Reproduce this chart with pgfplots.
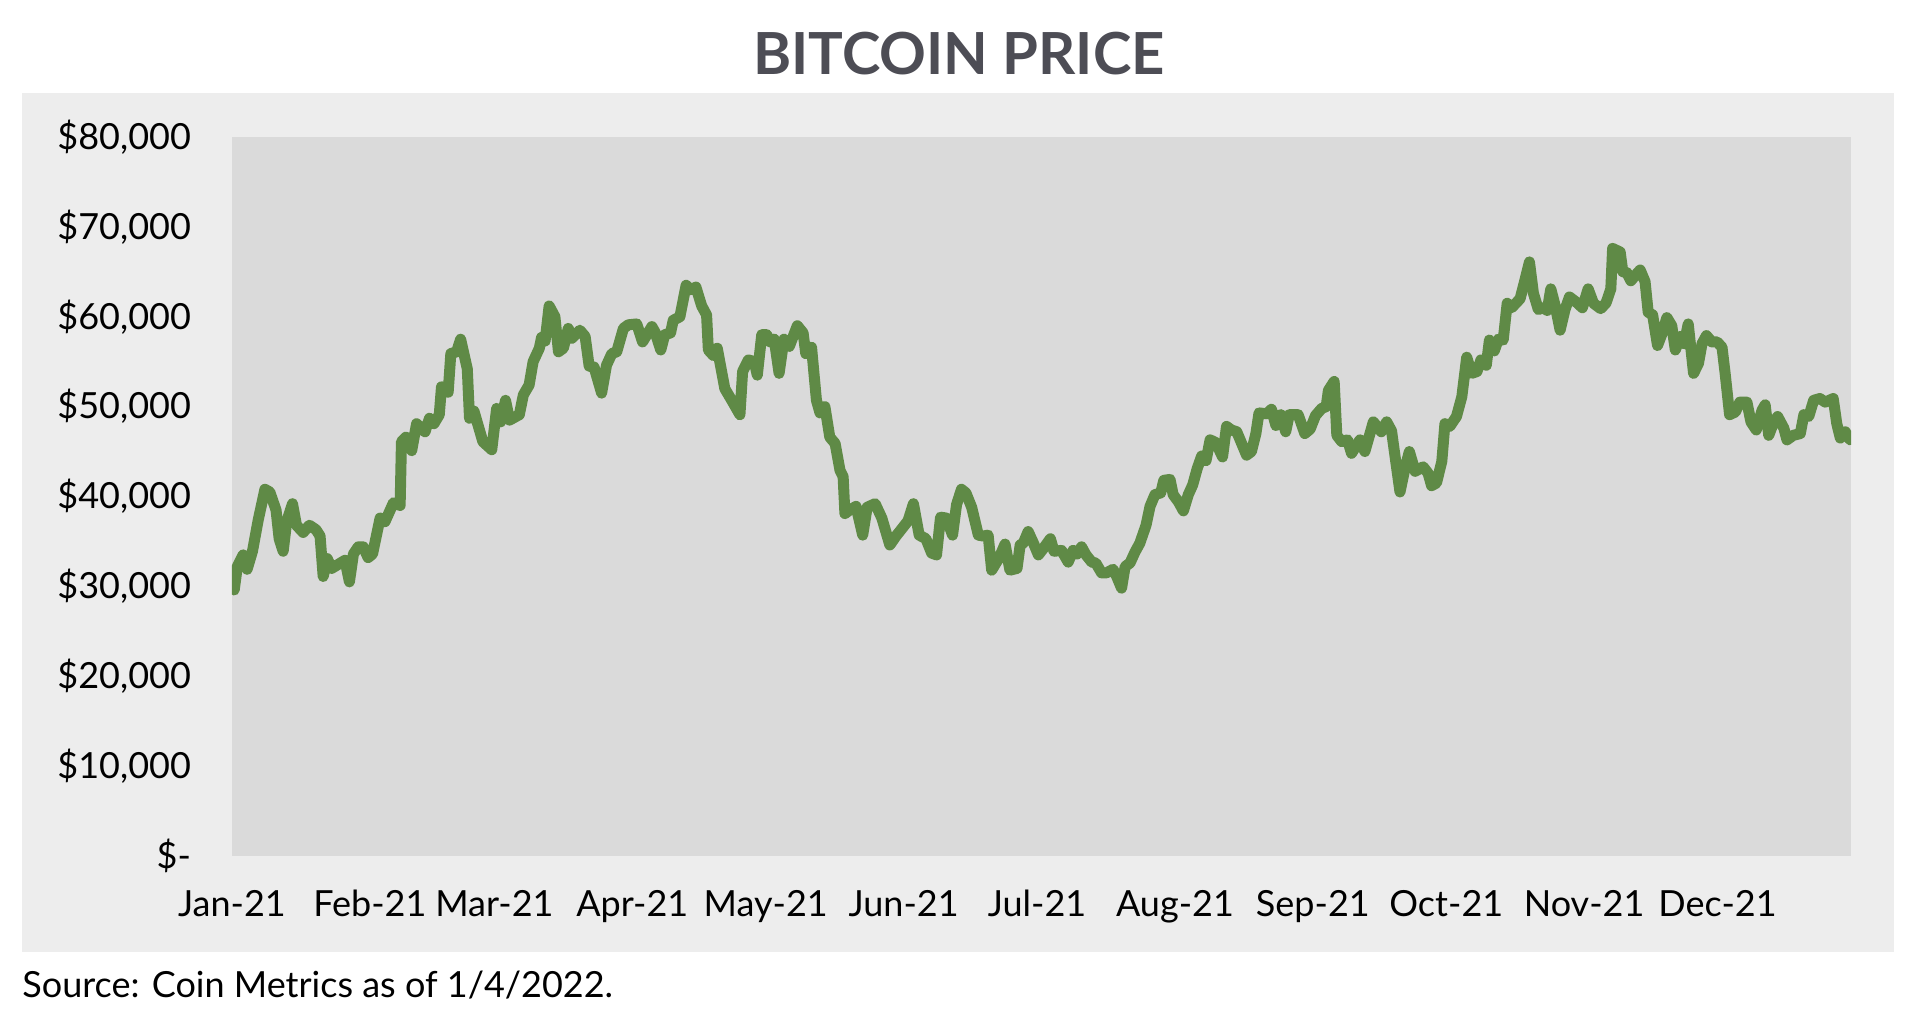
\documentclass[border=0pt]{standalone}
\usepackage{fontspec}
\setmainfont{Lato}
\usepackage{pgfplots}
\pgfplotsset{compat=1.18}
\definecolor{linegreen}{HTML}{5F8A46}
\definecolor{plotbg}{HTML}{DADADA}
\definecolor{outerbg}{HTML}{EDEDED}
\definecolor{titlegray}{HTML}{4D4D55}
\begin{document}
\begin{tikzpicture}[x=1pt,y=1pt]
\useasboundingbox (0,0) rectangle (959,510);
\fill[outerbg] (11,34) rectangle (947,463.5);
\node[font=\bfseries\fontsize{29}{33}\selectfont, text=titlegray] at (479.5,483) {BITCOIN PRICE};
\node[anchor=west, font=\fontsize{18}{21}\selectfont, inner sep=0pt] at (11,17.5) {Source: Coin Metrics as of 1/4/2022.};
\begin{axis}[
  at={(116pt,82pt)}, anchor=south west,
  width=809.5pt, height=359.5pt, scale only axis,
  xmin=0, xmax=364, ymin=0, ymax=80000,
  axis background/.style={fill=plotbg},
  axis line style={draw=none},
  major tick length=0pt,
  xtick={0,31,59,90,120,151,181,212,243,273,304,334},
  xticklabels={Jan-21,Feb-21,Mar-21,Apr-21,May-21,Jun-21,Jul-21,Aug-21,Sep-21,Oct-21,Nov-21,Dec-21},
  ytick={0,10000,20000,30000,40000,50000,60000,70000,80000},
  yticklabels={{\$-},{\$10,000},{\$20,000},{\$30,000},{\$40,000},{\$50,000},{\$60,000},{\$70,000},{\$80,000}},
  tick label style={font=\fontsize{18}{21}\selectfont, text=black},
  yticklabel style={xshift=-17pt},
  xticklabel style={yshift=-13.5pt},
  scaled y ticks=false,
]
\addplot[linegreen, line width=5.5pt, line join=round, line cap=round] table[x=d, y=v, y expr=\thisrow{v}*1000] {
d v
0.5 29.6
1.2 32.2
2.5 33.5
3.4 31.9
4.6 33.9
5.9 37.4
7.4 40.8
8.5 40.5
9.9 38.5
10.6 35.3
11.5 33.9
12.3 37.2
13.6 39.2
14.5 36.8
16 36.0
17.4 36.8
18.9 36.3
19.8 35.6
20.5 31.1
21.4 33.1
22.4 32.0
25.4 32.9
26.4 30.5
27.3 33.6
28.4 34.4
29.5 34.4
30.6 33.2
31.6 33.6
33.3 37.6
34.4 37.2
36.3 39.3
37.8 39.0
38.1 46.1
39.1 46.6
40.4 45.1
41.5 48.1
43.4 47.2
44.4 48.7
45.4 48.1
46.6 49.1
47.1 52.2
48.6 51.6
49.2 55.9
50.5 56.1
51.4 57.5
52.9 54.2
53.4 48.7
54.4 49.5
56.4 46.1
58.4 45.2
59.5 49.8
60.4 48.3
61.5 50.7
62.4 48.5
64.6 49.1
65.5 51.3
66.8 52.4
67.7 55.0
69.1 56.5
69.6 57.7
70.4 57.3
71.3 61.2
72.6 60.0
73.4 56.1
74.5 56.5
75.6 58.7
76.4 57.6
78.2 58.5
79.4 57.8
80.3 54.5
81.4 54.4
83.1 51.5
84.2 54.6
85.4 55.9
86.5 56.1
88 58.7
89.1 59.1
91 59.2
92.3 57.2
94.4 58.9
95.1 58.3
96.4 56.3
97.3 58.0
98.6 58.2
99.2 59.6
100.7 60.0
102.1 63.5
103.1 63.0
104.3 63.3
105.6 61.2
106.7 60.2
107.1 56.3
108.2 55.7
109.1 56.5
110.8 52.0
112.7 50.4
114.2 49.1
114.8 53.9
116.1 55.2
117.4 55.0
118.1 53.5
119.1 58.0
120.2 58.0
121 57.2
121.9 57.5
123 53.7
124.1 57.5
125.3 56.7
127.1 59.0
128.4 58.2
129 55.9
130.3 56.6
131.4 50.7
132.2 49.3
133.3 50.0
134.4 46.6
135.6 45.9
136.7 42.9
137.4 42.2
137.8 38.1
138.9 38.5
140.3 38.9
141.8 35.7
142.8 38.8
144.6 39.2
146.1 37.6
147.9 34.6
149.3 35.6
150.9 36.6
152 37.3
153.2 39.2
154.5 35.7
156 35.3
157.3 33.7
158.4 33.5
159.3 37.7
160.6 37.6
162 35.7
162.9 39.1
164 40.8
165 40.4
166.3 38.8
167.8 35.7
168.9 35.6
170 35.7
170.8 31.8
172.5 33.2
173.8 34.7
174.9 31.8
176.5 32.0
177.2 34.6
177.9 34.8
179 36.1
180.2 34.8
181.3 33.5
182.4 34.2
184 35.3
184.8 33.9
186.5 34.0
188 32.7
189.1 34.0
190 33.6
191 34.4
192 33.5
193.3 32.7
194.2 32.6
195.5 31.5
196.6 31.5
198.1 31.9
198.9 31.1
200 29.8
200.8 32.2
201.9 32.6
203 33.8
204.1 34.8
205.5 36.8
206.4 38.9
207.5 40.2
208.8 40.4
209.5 41.8
210.9 41.9
211.6 40.2
212.8 39.4
213.9 38.4
215 40.2
216 41.3
217 43.1
218 44.5
219 44.0
219.9 46.3
221.2 46.0
222.7 44.4
223.6 47.8
224.7 47.4
225.9 47.2
227 45.9
228.1 44.6
229.2 45.0
230.2 47.0
230.9 49.3
232.6 49.2
233.7 49.7
234.7 47.9
235.8 49.1
236.9 47.2
237.7 49.1
239.7 49.1
241.2 47.0
242.4 47.5
243.6 49.0
245 49.8
246 50.0
246.5 51.8
247.8 52.8
248.4 46.8
249.5 46.1
250.8 46.3
251.7 44.8
253.6 46.3
254.7 45.0
256.6 48.3
258.4 47.2
259.6 48.3
260.7 47.3
261.7 43.7
262.6 40.5
263.7 43.1
264.7 45.0
266 42.8
267.8 43.3
268.9 42.6
269.7 41.2
270.8 41.5
272 43.9
272.7 48.1
273.8 47.8
275.3 48.9
276.5 51.1
277.6 55.5
278.7 53.7
279.9 53.9
280.8 55.2
282 54.6
282.7 57.4
283.8 56.2
284.7 57.5
285.8 57.4
286.7 61.5
287.7 61.0
289.6 62.0
290.7 64.1
291.7 66.1
292.6 62.6
293.7 60.8
294.8 61.0
295.7 60.7
296.5 63.1
297.5 61.2
298.6 58.5
299.7 60.8
300.7 62.2
302.3 61.6
303.6 61.0
304.9 63.1
306.1 61.5
307.7 60.9
308.9 61.5
310 63.1
310.4 67.6
312.1 67.2
312.7 65.0
313.6 64.9
314.5 64.0
315.5 64.6
316.6 65.2
317.7 63.9
318.4 60.5
319.4 60.2
320.5 56.8
321.5 58.1
322.6 59.9
323.7 59.0
324.5 56.3
325.6 57.8
326.5 57.0
327.4 59.2
328.6 53.7
329.7 54.8
330.5 57.0
331.5 57.9
332.7 57.2
333.9 57.2
335 56.6
335.7 53.7
336.7 49.1
338 49.4
339 50.5
340.6 50.5
341.5 48.3
342.7 47.4
344 49.6
344.7 50.2
345.5 46.8
346.5 48.1
347.5 48.9
348.9 47.6
349.6 46.3
351 46.8
352.6 47.0
353.4 49.1
354.5 48.9
355.6 50.7
357 50.9
358.2 50.5
360 50.9
360.8 48.1
361.6 46.5
362.7 47.2
363.8 46.3
};
\end{axis}
\end{tikzpicture}
\end{document}
